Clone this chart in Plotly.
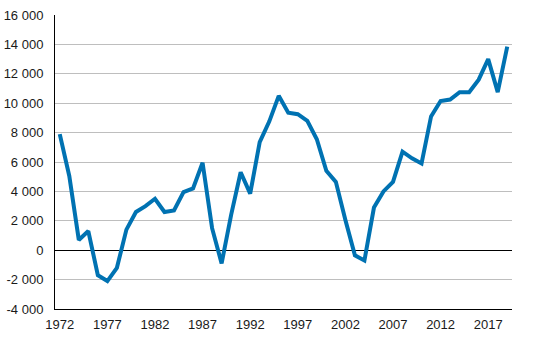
import plotly.graph_objects as go

years = list(range(1972, 2020))
values = [
    7900, 5050, 700, 1300, -1700, -2100, -1200, 1400, 2600, 3000,
    3500, 2600, 2700, 3950, 4200, 5950, 1500, -900, 2400, 5300,
    3850, 7350, 8750, 10500, 9350, 9250, 8800, 7550, 5400, 4650,
    2050, -350, -700, 2900, 4000, 4650, 6700, 6250, 5900, 9100,
    10150, 10250, 10750, 10750, 11600, 13000, 10750, 13850,
]

x_tick_years = [1972, 1977, 1982, 1987, 1992, 1997, 2002, 2007, 2012, 2017]
y_tick_values = [-4000, -2000, 0, 2000, 4000, 6000, 8000, 10000, 12000, 14000, 16000]
y_tick_labels = ["-4 000", "-2 000", "0", "2 000", "4 000", "6 000", "8 000",
                 "10 000", "12 000", "14 000", "16 000"]

fig = go.Figure()
fig.add_trace(go.Scatter(
    x=years, y=values, mode="lines",
    line=dict(color="#0072B2", width=4),
    hoverinfo="x+y",
))

font = dict(family="Liberation Sans, Arial, sans-serif", size=13, color="#1a1a1a")

fig.update_layout(
    width=534, height=339,
    margin=dict(l=55, r=22, t=15, b=30, autoexpand=False),
    paper_bgcolor="white", plot_bgcolor="white",
    showlegend=False,
    font=font,
    xaxis=dict(
        range=[1971.5, 2019.5],
        tickvals=x_tick_years,
        ticktext=[str(y) for y in x_tick_years],
        showgrid=False, zeroline=False,
        showline=True, linecolor="black", linewidth=1,
        ticks="", ticklabelstandoff=3,
        tickfont=font, automargin=False,
    ),
    yaxis=dict(
        range=[-4000, 16000],
        tickvals=y_tick_values,
        ticktext=y_tick_labels,
        showgrid=True, gridcolor="#BEBEBE", gridwidth=1,
        zeroline=True, zerolinecolor="black", zerolinewidth=1,
        showline=True, linecolor="black", linewidth=1,
        ticks="", ticklabelstandoff=8,
        tickfont=font, automargin=False,
    ),
)

fig.write_html("out.html")
